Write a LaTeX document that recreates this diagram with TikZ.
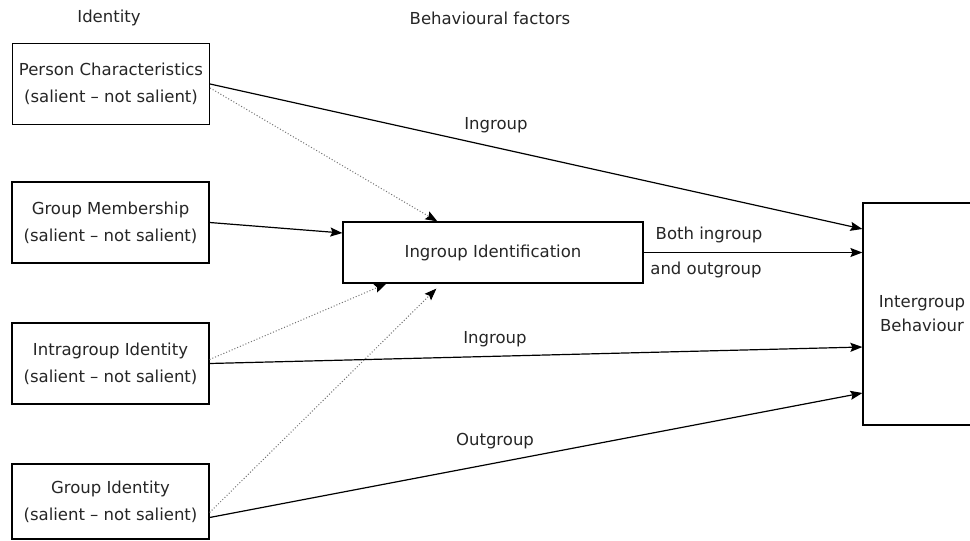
\documentclass[tikz,border=0pt]{standalone}
\usepackage{fontspec}
\setmainfont{DejaVu Sans}
\usetikzlibrary{arrows.meta,calc}
\begin{document}
\begin{tikzpicture}[x=1pt,y=-1pt,
  every node/.style={font=\fontsize{16.5}{27}\selectfont, text=black!85},
  idbox/.style={draw, line width=1.2pt, align=center, minimum width=197pt, minimum height=81pt, inner sep=0pt},
  solidarrow/.style={line width=1.2pt, -{Stealth[length=12pt,width=9pt,inset=2pt]}},
  dotarrow/.style={line width=1pt, dotted, black!55, -{Stealth[length=12pt,width=9pt,inset=2pt,black]}},
  lbl/.style={inner sep=0pt}
]
\clip (0,0) rectangle (970,541);
\fill[white] (0,0) rectangle (970,541);

% headings
\node[lbl] (hid) at (109,18) {Identity};
\node[lbl] (hbf) at (490,18) {Behavioural factors};

% left boxes
\node[idbox] (pc) at (111,84) {Person Characteristics\\(salient -- not salient)};
\node[idbox] (gm) at (110.5,222.5) {Group Membership\\(salient -- not salient)};
\node[idbox] (ig) at (110.5,363.5) {Intragroup Identity\\(salient -- not salient)};
\node[idbox, minimum height=75pt] (gi) at (110.5,501.5) {Group Identity\\(salient -- not salient)};

% middle box
\node[draw, line width=1.2pt, minimum width=300pt, minimum height=61pt, inner sep=0pt] (ii) at (493,252.5) {Ingroup Identification};

% right box
\node[draw, line width=1.2pt, minimum width=118pt, minimum height=222pt, align=center, inner sep=0pt, font=\fontsize{16.5}{24}\selectfont] (ib) at (922,314) {Intergroup\\Behaviour};

% solid connectors
\draw[solidarrow] (pc.east) -- ([yshift=85pt]ib.west);
\draw[solidarrow] (gm.east) -- ([yshift=19.5pt]ii.west);
\draw[solidarrow] (ii.east) -- (ib.west |- ii.east);
\draw[solidarrow] (ig.east) -- ([yshift=-33pt]ib.west);
\draw[solidarrow] ([yshift=-16pt]gi.east) -- ([yshift=-79pt]ib.west);

% dotted connectors
\draw[dotarrow] ([yshift=-4pt]pc.east) -- ([xshift=95pt]ii.north west);
\draw[dotarrow] ([yshift=4pt]ig.east) -- ([xshift=44pt]ii.south west);
\draw[dotarrow] ([yshift=-11pt]gi.east) -- ([xshift=94pt,yshift=-5pt]ii.south west);

% connector labels
\node[lbl] (l1) at (496,125) {Ingroup};
\node[lbl] (l2) at (709,235) {Both ingroup};
\node[lbl] (l3) at (706,270) {and outgroup};
\node[lbl] (l4) at (495,339) {Ingroup};
\node[lbl] (l5) at (495,441) {Outgroup};
\end{tikzpicture}
\end{document}
